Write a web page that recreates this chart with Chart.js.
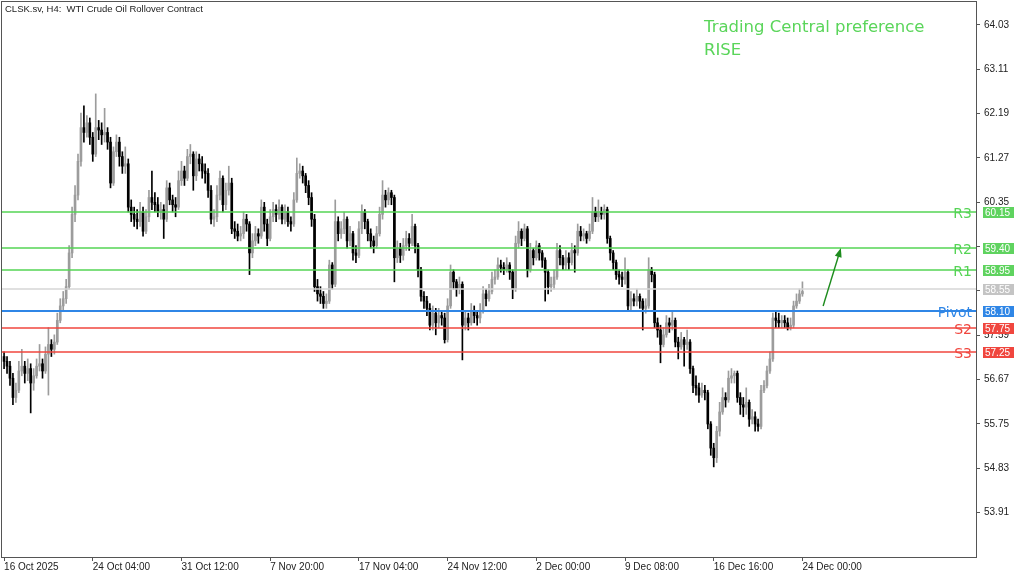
<!DOCTYPE html>
<html>
<head>
<meta charset="utf-8">
<title>CLSK.sv H4</title>
<script src="https://cdn.jsdelivr.net/npm/chart.js@4.4.1/dist/chart.umd.min.js"></script>
<style>
    html, body { margin: 0; padding: 0; background: #ffffff; }
    #wrap { width: 1024px; height: 577px; }
</style>
</head>
<body>
<div id="wrap"><canvas id="priceChart" width="1024" height="577"></canvas></div>
<script>
// Datos de velas H4 (cada vela abre donde cerró la anterior)
const firstOpen = 57.15;

const closes = [
    57.05, 56.95, 56.70, 56.30, 56.45, 56.85, 56.95, 56.80, 56.90, 56.60,
    56.75, 56.95, 57.00, 56.85, 57.20, 57.40, 57.30, 57.45, 57.90, 58.20,
    58.35, 58.60, 59.30, 60.10, 60.50, 61.20, 61.90, 61.80, 62.00, 61.70,
    61.35, 61.90, 61.85, 61.75, 61.80, 61.60, 60.75, 61.40, 61.60, 61.30,
    61.10, 61.15, 60.25, 60.10, 60.00, 59.95, 60.15, 59.75, 60.05, 60.45,
    60.35, 60.30, 60.15, 60.20, 60.00, 60.65, 60.40, 60.30, 60.25, 60.80,
    61.00, 60.85, 61.30, 61.35, 60.90, 61.25, 61.15, 61.00, 60.95, 60.60,
    60.00, 60.05, 60.50, 60.85, 60.30, 60.60, 60.75, 59.80, 59.75, 59.65,
    59.70, 60.00, 59.90, 59.30, 59.55, 59.70, 59.65, 60.25, 59.90, 59.60,
    60.05, 60.20, 60.10, 60.25, 60.00, 60.15, 59.95, 59.90, 60.40, 60.95,
    61.00, 60.90, 60.70, 60.45, 60.00, 58.60, 58.45, 58.40, 58.25, 58.30,
    59.05, 58.65, 59.95, 59.70, 59.80, 60.00, 59.55, 59.70, 59.30, 59.25,
    59.80, 60.15, 59.95, 59.70, 59.55, 59.45, 59.70, 60.10, 60.50, 60.40,
    60.55, 60.45, 59.20, 59.40, 59.25, 59.45, 59.60, 59.50, 59.85, 59.45,
    58.95, 58.40, 58.30, 58.15, 57.80, 58.05, 57.85, 58.00, 57.95, 57.50,
    58.20, 58.90, 58.70, 58.55, 58.65, 57.80, 57.95, 57.85, 58.10, 58.00,
    57.95, 58.10, 58.45, 58.35, 58.50, 58.75, 58.80, 59.05, 59.00, 58.95,
    59.05, 58.90, 58.55, 59.50, 59.75, 59.60, 59.80, 58.95, 59.35, 59.20,
    59.45, 59.30, 59.15, 58.90, 58.60, 58.65, 58.80, 59.35, 59.20, 59.05,
    59.20, 59.10, 59.35, 59.30, 59.75, 59.65, 59.70, 59.60, 59.75, 60.15,
    60.05, 60.15, 60.10, 60.20, 59.60, 59.30, 59.10, 58.85, 58.80, 58.75,
    58.90, 58.20, 58.35, 58.30, 58.40, 58.30, 58.15, 58.20, 58.95, 58.85,
    57.85, 57.70, 57.40, 57.60, 57.85, 57.80, 57.90, 57.45, 57.35, 57.50,
    57.40, 57.45, 56.90, 56.55, 56.50, 56.35, 56.45, 56.40, 55.75, 55.25,
    55.05, 55.60, 56.00, 56.30, 56.25, 56.70, 56.75, 56.80, 56.30, 56.15,
    56.10, 56.20, 55.85, 55.90, 55.75, 55.70, 56.45, 56.55, 56.85, 57.10,
    57.95, 57.90, 57.85, 57.90, 57.85, 57.75, 57.80, 58.20, 58.30, 58.45, 58.50
];

const highs = [
    57.25, 57.15, 57.05, 56.80, 56.60, 57.05, 57.30, 57.05, 57.10, 57.00,
    56.90, 57.10, 57.40, 57.10, 57.35, 57.75, 57.50, 57.60, 58.05, 58.35,
    58.50, 58.75, 59.45, 60.25, 60.70, 61.35, 62.20, 62.35, 62.15, 62.10,
    61.80, 62.60, 62.05, 62.00, 62.30, 61.90, 61.70, 61.50, 61.75, 61.70,
    61.40, 61.50, 61.25, 60.40, 60.25, 60.20, 60.35, 60.25, 60.20, 60.60,
    61.00, 60.55, 60.45, 60.35, 60.30, 60.80, 60.75, 60.50, 60.45, 61.00,
    61.20, 61.10, 61.45, 61.55, 61.40, 61.40, 61.35, 61.30, 61.15, 61.05,
    60.70, 60.20, 60.70, 61.00, 60.90, 60.75, 61.10, 60.85, 59.95, 59.90,
    59.85, 60.15, 60.10, 59.95, 59.70, 59.85, 59.80, 60.40, 60.35, 60.00,
    60.20, 60.35, 60.30, 60.40, 60.30, 60.30, 60.25, 60.05, 60.55, 61.27,
    61.15, 61.10, 60.95, 60.80, 60.55, 60.10, 58.75, 58.60, 58.50, 58.45,
    59.15, 59.10, 60.40, 60.05, 59.95, 60.15, 60.05, 59.85, 59.75, 59.45,
    59.95, 60.30, 60.20, 60.00, 59.80, 59.65, 59.85, 60.25, 60.80, 60.60,
    60.65, 60.60, 60.50, 59.55, 59.50, 59.60, 59.75, 59.70, 60.10, 59.90,
    59.50, 59.00, 58.50, 58.40, 58.25, 58.20, 58.15, 58.15, 58.10, 58.05,
    58.35, 59.05, 58.95, 58.75, 58.80, 58.70, 58.10, 58.05, 58.25, 58.20,
    58.10, 58.25, 58.60, 58.55, 58.65, 58.90, 58.95, 59.20, 59.15, 59.10,
    59.20, 59.10, 58.95, 59.65, 59.95, 59.80, 59.90, 59.85, 59.50, 59.40,
    59.55, 59.50, 59.35, 59.20, 58.95, 58.80, 58.95, 59.50, 59.45, 59.25,
    59.35, 59.30, 59.50, 59.45, 59.90, 59.85, 59.80, 59.75, 59.90, 60.45,
    60.25, 60.40, 60.25, 60.30, 60.25, 59.65, 59.35, 59.15, 58.95, 58.90,
    59.20, 58.95, 58.50, 58.45, 58.55, 58.45, 58.35, 58.35, 59.20, 59.00,
    58.90, 57.95, 57.80, 57.75, 58.00, 57.95, 58.10, 57.95, 57.55, 57.65,
    57.55, 57.70, 57.50, 56.95, 56.75, 56.60, 56.60, 56.55, 56.45, 55.80,
    55.35, 55.70, 56.20, 56.50, 56.40, 56.85, 56.90, 56.85, 56.85, 56.40,
    56.30, 56.50, 56.25, 56.05, 56.00, 55.85, 56.55, 56.65, 56.95, 57.25,
    58.05, 58.10, 58.05, 58.00, 58.00, 57.95, 57.95, 58.30, 58.45, 58.55, 58.70
];

const lows = [
    56.90, 56.80, 56.55, 56.15, 56.20, 56.40, 56.75, 56.60, 56.65, 55.98,
    56.45, 56.70, 56.85, 56.70, 56.80, 56.35, 57.15, 57.20, 57.40, 57.85,
    58.10, 58.25, 58.55, 59.20, 59.95, 60.40, 61.10, 61.60, 61.70, 61.55,
    61.20, 61.30, 61.65, 61.55, 61.60, 61.45, 60.65, 60.70, 61.30, 61.10,
    60.95, 60.95, 60.15, 59.95, 59.85, 59.80, 59.85, 59.65, 59.70, 59.95,
    60.20, 60.15, 60.05, 60.00, 59.60, 59.95, 60.30, 60.15, 60.05, 60.20,
    60.70, 60.70, 60.80, 61.15, 60.60, 60.80, 61.00, 60.85, 60.75, 60.45,
    59.90, 59.85, 59.95, 60.40, 60.15, 60.20, 60.50, 59.70, 59.60, 59.55,
    59.55, 59.60, 59.75, 58.85, 59.20, 59.45, 59.50, 59.60, 59.75, 59.45,
    59.55, 59.95, 59.95, 60.00, 59.90, 59.90, 59.85, 59.75, 59.85, 60.35,
    60.85, 60.75, 60.55, 60.30, 59.85, 58.50, 58.30, 58.25, 58.15, 58.15,
    58.25, 58.55, 58.60, 59.55, 59.60, 59.70, 59.40, 59.45, 59.15, 59.10,
    59.20, 59.70, 59.80, 59.55, 59.40, 59.30, 59.40, 59.65, 60.00, 60.25,
    60.30, 60.30, 58.70, 59.10, 59.10, 59.15, 59.35, 59.35, 59.45, 59.30,
    58.80, 58.30, 58.15, 58.00, 57.70, 57.70, 57.60, 57.75, 57.80, 57.43,
    57.45, 58.15, 58.55, 58.40, 58.45, 57.08, 57.70, 57.70, 57.80, 57.85,
    57.80, 57.85, 58.05, 58.20, 58.30, 58.45, 58.65, 58.75, 58.90, 58.85,
    58.90, 58.75, 58.35, 58.50, 59.40, 59.45, 59.55, 58.80, 58.90, 59.05,
    59.15, 59.15, 59.00, 58.30, 58.45, 58.50, 58.55, 58.75, 59.05, 58.95,
    58.95, 58.95, 59.05, 58.90, 59.25, 59.55, 59.55, 59.50, 59.55, 59.70,
    59.95, 59.95, 60.00, 60.00, 59.50, 59.15, 58.95, 58.75, 58.65, 58.60,
    58.65, 58.10, 58.10, 58.20, 58.20, 58.15, 57.70, 58.05, 58.15, 58.70,
    57.75, 57.55, 57.02, 57.35, 57.55, 57.65, 57.70, 57.35, 57.10, 57.30,
    56.95, 57.30, 56.80, 56.40, 56.35, 56.20, 56.30, 56.25, 55.65, 55.10,
    54.86, 54.95, 55.50, 55.95, 56.10, 56.20, 56.60, 56.60, 56.20, 55.95,
    55.90, 55.95, 55.70, 55.75, 55.60, 55.60, 55.65, 56.40, 56.50, 56.80,
    57.05, 57.75, 57.75, 57.75, 57.75, 57.70, 57.70, 57.75, 58.15, 58.25, 58.40
];

// Etiquetas del eje de tiempo (una cada 30 velas)
const timeLabels = ['16 Oct 2025', '24 Oct 04:00', '31 Oct 12:00', '7 Nov 20:00', '17 Nov 04:00',
    '24 Nov 12:00', '2 Dec 00:00', '9 Dec 08:00', '16 Dec 16:00', '24 Dec 00:00'];
const barsPerLabel = 30;

// Precios del eje derecho
const priceTicks = [53.91, 54.83, 55.75, 56.67, 57.59, 58.51, 59.43, 60.35, 61.27, 62.19, 63.11, 64.03];

// Niveles de Trading Central
const levelNames = ['R3', 'R2', 'R1', '', 'Pivot', 'S2', 'S3'];
const levelValues = [60.15, 59.40, 58.95, 58.55, 58.10, 57.75, 57.25];

// Flecha de preferencia (vela, precio)
const arrowStart = [277, 58.20];
const arrowEnd = [283, 59.40];

// Estilos
const levelColors = ['#55d455', '#55d455', '#55d455', '#d6d6d6', '#2f86e6', '#f0463e', '#f0463e'];
const tagColors = ['#5fd35f', '#5fd35f', '#5fd35f', '#c4c4c4', '#2f86e6', '#f0463e', '#f0463e'];
const levelWidths = [1.5, 1.5, 1.5, 1.5, 2, 1.5, 1.5];
const bullColor = '#9c9c9c';
const bearColor = '#000000';
const frameColor = '#555555';
const fontFamily = "'Liberation Sans', Arial, sans-serif";

const opens = [firstOpen].concat(closes.slice(0, -1));
const candleColors = closes.map((c, i) => c >= opens[i] ? bullColor : bearColor);

// Oculta los precios del eje que quedan tapados por una etiqueta de nivel
function hiddenByTag(value) {
    return levelValues.some(v => Math.abs(v - value) < 0.06);
}

// Dibuja niveles, etiquetas, flecha y marco
const overlayPlugin = {
    id: 'overlay',
    afterDatasetsDraw(chart) {
        const ctx = chart.ctx;
        const a = chart.chartArea;
        const x = chart.scales.x;
        const y = chart.scales.y;

        ctx.save();
        ctx.beginPath();
        ctx.rect(a.left, a.top, a.right - a.left, a.bottom - a.top);
        ctx.clip();

        levelValues.forEach((v, i) => {
            const py = Math.round(y.getPixelForValue(v));
            ctx.strokeStyle = levelColors[i];
            ctx.lineWidth = levelWidths[i];
            ctx.beginPath();
            ctx.moveTo(a.left, py);
            ctx.lineTo(a.right, py);
            ctx.stroke();

            if (levelNames[i]) {
                ctx.font = "14px 'DejaVu Sans', sans-serif";
                ctx.fillStyle = levelColors[i];
                ctx.textAlign = 'right';
                ctx.textBaseline = 'middle';
                ctx.fillText(levelNames[i], a.right - 4, py + 2);
            }
        });

        // Flecha verde
        const x1 = x.getPixelForValue(arrowStart[0]);
        const y1 = y.getPixelForValue(arrowStart[1]);
        const x2 = x.getPixelForValue(arrowEnd[0]);
        const y2 = y.getPixelForValue(arrowEnd[1]);
        const ang = Math.atan2(y2 - y1, x2 - x1);
        const head = 9;
        ctx.strokeStyle = '#1e8c1e';
        ctx.fillStyle = '#1e8c1e';
        ctx.lineWidth = 1.4;
        ctx.beginPath();
        ctx.moveTo(x1, y1);
        ctx.lineTo(x2 - Math.cos(ang) * head * 0.8, y2 - Math.sin(ang) * head * 0.8);
        ctx.stroke();
        ctx.beginPath();
        ctx.moveTo(x2, y2);
        ctx.lineTo(x2 - head * Math.cos(ang) + 3.5 * Math.sin(ang), y2 - head * Math.sin(ang) - 3.5 * Math.cos(ang));
        ctx.lineTo(x2 - head * Math.cos(ang) - 3.5 * Math.sin(ang), y2 - head * Math.sin(ang) + 3.5 * Math.cos(ang));
        ctx.closePath();
        ctx.fill();

        ctx.restore();
    },
    afterDraw(chart) {
        const ctx = chart.ctx;
        const a = chart.chartArea;
        const y = chart.scales.y;

        ctx.save();
        // Marco del gráfico
        ctx.strokeStyle = frameColor;
        ctx.lineWidth = 1;
        ctx.strokeRect(a.left - 0.5, a.top - 0.5, a.right - a.left + 1, a.bottom - a.top + 1);

        // Etiquetas de precio de los niveles
        levelValues.forEach((v, i) => {
            const py = Math.round(y.getPixelForValue(v));
            ctx.fillStyle = tagColors[i];
            ctx.fillRect(a.right + 7, py - 5, 31, 11);
            ctx.fillStyle = '#ffffff';
            ctx.font = '10px ' + fontFamily;
            ctx.textAlign = 'left';
            ctx.textBaseline = 'middle';
            ctx.fillText(v.toFixed(2), a.right + 9, py + 1);
        });

        // Títulos
        ctx.fillStyle = '#222222';
        ctx.font = '9.5px ' + fontFamily;
        ctx.textAlign = 'left';
        ctx.textBaseline = 'middle';
        ctx.fillText('CLSK.sv, H4:  WTI Crude Oil Rollover Contract', 5, 9);

        ctx.fillStyle = '#5ad55a';
        ctx.font = "16.5px 'DejaVu Sans', sans-serif";
        ctx.fillText('Trading Central preference', 704, 28);
        ctx.fillText('RISE', 704, 51);
        ctx.restore();
    }
};

function createPriceChart() {
    const ctx = document.getElementById('priceChart').getContext('2d');
    const xMin = -0.7;
    const xMax = xMin + 329.4;

    new Chart(ctx, {
        type: 'bar',
        data: {
            datasets: [
                {
                    label: 'Mechas',
                    data: closes.map((c, i) => ({ x: i, y: [lows[i], highs[i]] })),
                    backgroundColor: candleColors,
                    barThickness: 1,
                    grouped: false,
                    order: 2
                },
                {
                    label: 'Cuerpos',
                    data: closes.map((c, i) => ({ x: i, y: [opens[i], c] })),
                    backgroundColor: candleColors,
                    barThickness: 2,
                    minBarLength: 1,
                    grouped: false,
                    order: 1
                }
            ]
        },
        options: {
            responsive: false,
            animation: false,
            devicePixelRatio: 1,
            events: [],
            layout: { padding: { left: 2, top: 2, right: 0, bottom: 0 } },
            plugins: {
                legend: { display: false },
                tooltip: { enabled: false }
            },
            scales: {
                x: {
                    type: 'linear',
                    position: 'bottom',
                    min: xMin,
                    max: xMax,
                    offset: false,
                    grid: { offset: false, drawOnChartArea: false, drawTicks: true, tickLength: 4, color: frameColor },
                    border: { display: true, color: frameColor },
                    afterBuildTicks: function(scale) {
                        scale.ticks = timeLabels.map((t, i) => ({ value: i * barsPerLabel }));
                    },
                    afterFit: function(scale) {
                        scale.height = 20;
                        scale.paddingLeft = 0;
                        scale.paddingRight = 0;
                    },
                    ticks: {
                        align: 'start',
                        autoSkip: false,
                        maxRotation: 0,
                        padding: 0,
                        color: '#222222',
                        font: { family: fontFamily, size: 10 },
                        callback: function(value) {
                            return timeLabels[Math.round(value / barsPerLabel)];
                        }
                    }
                },
                y: {
                    position: 'right',
                    min: 52.99,
                    max: 64.507,
                    grid: { drawOnChartArea: false, drawTicks: true, tickLength: 4, color: frameColor },
                    border: { display: true, color: frameColor },
                    afterBuildTicks: function(scale) {
                        scale.ticks = priceTicks.map(v => ({ value: v }));
                    },
                    afterFit: function(scale) {
                        scale.width = 48;
                        scale.paddingTop = 0;
                        scale.paddingBottom = 0;
                    },
                    ticks: {
                        padding: 4,
                        color: '#222222',
                        font: { family: fontFamily, size: 10 },
                        callback: function(value) {
                            return hiddenByTag(value) ? '' : Number(value).toFixed(2);
                        }
                    }
                }
            }
        },
        plugins: [overlayPlugin]
    });
}

document.addEventListener('DOMContentLoaded', createPriceChart);
</script>
</body>
</html>
